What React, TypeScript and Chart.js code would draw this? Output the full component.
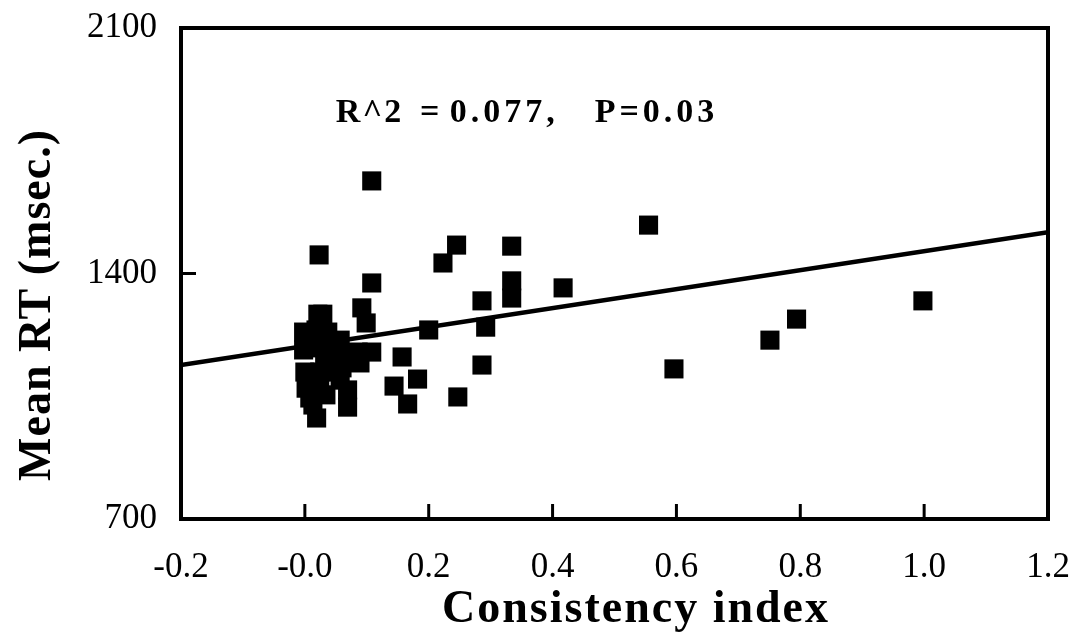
import { useEffect, useRef } from "react";
import { Chart, registerables } from "chart.js";

Chart.register(...registerables);

// Scatter data
const consistencyIndex = [
  0.108, 0.023, 0.108, 0.245, 0.223, 0.334, 0.334, 0.334, 0.417, 0.286,
  0.292, 0.2, 0.286, 0.247, 0.555, 0.596, 0.751, 0.794, 0.998, 0.166,
  0.182, 0.144, 0.157, 0.092, 0.099, 0.108, 0.089, 0.086,
  -0.002, -0.002, 0.0, 0.002, 0.008, 0.018, 0.021, 0.029, 0.021, 0.024,
  0.024, 0.019, 0.013, 0.037, 0.04, 0.032, 0.037, 0.034, 0.057, 0.057,
  0.06, 0.057, 0.069, 0.069,
];
const meanRT = [
  1664, 1453, 1373, 1481, 1430, 1478, 1379, 1330, 1359, 1322,
  1247, 1239, 1139, 1048, 1538, 1128, 1210, 1270, 1322, 1028,
  1099, 1079, 1162, 1302, 1259, 1176, 1145, 1176,
  1233, 1182, 1119, 1073, 1045, 1239, 1284, 1284, 1188, 1119,
  1073, 988, 1025, 1233, 1196, 1168, 1119, 1054, 1210, 1168,
  1131, 1096, 1068, 1019,
];

// Regression line endpoints
const fitX = [-0.2, 1.2];
const fitY = [1139, 1518];

// Axis ticks
const xTickLabels = ["-0.2", "-0.0", "0.2", "0.4", "0.6", "0.8", "1.0", "1.2"];
const yTickLabels = ["700", "1400", "2100"];

// Texts
const xTitle = "Consistency index";
const yTitle = "Mean RT (msec.)";
const statTexts = ["R^2", "=", "0.077,", "P=0.03"];
const statX = [0.05, 0.186, 0.234, 0.468];
const statSpacing = [2, 4, 4, 4];
const statY = 1832;

const SERIF = "'Liberation Serif', 'Times New Roman', serif";

const framePlugin = {
  id: "frame",
  afterDatasetsDraw(chart: any) {
    const { ctx, chartArea } = chart;
    const { left, right, top, bottom } = chartArea;
    const xs = chart.scales.x;
    const ys = chart.scales.y;
    ctx.save();
    ctx.strokeStyle = "#000";
    // inward ticks
    ctx.lineWidth = 3;
    xs.ticks.forEach((t: any, i: number) => {
      if (i === 0 || i === xs.ticks.length - 1) return;
      const px = xs.getPixelForValue(t.value);
      ctx.beginPath();
      ctx.moveTo(px, bottom);
      ctx.lineTo(px, bottom - 15);
      ctx.stroke();
    });
    ys.ticks.forEach((t: any, i: number) => {
      if (i === 0 || i === ys.ticks.length - 1) return;
      const py = ys.getPixelForValue(t.value);
      ctx.beginPath();
      ctx.moveTo(left, py);
      ctx.lineTo(left + 15, py);
      ctx.stroke();
    });
    // frame
    ctx.lineWidth = 4;
    ctx.strokeRect(left, top, right - left, bottom - top);

    // stat annotation
    ctx.fillStyle = "#000";
    ctx.font = `bold 34px ${SERIF}`;
    ctx.textAlign = "left";
    ctx.textBaseline = "alphabetic";
    statTexts.forEach((s, i) => {
      (ctx as any).letterSpacing = `${statSpacing[i]}px`;
      ctx.fillText(s, xs.getPixelForValue(statX[i]), ys.getPixelForValue(statY));
    });

    // x title
    ctx.font = `bold 46px ${SERIF}`;
    (ctx as any).letterSpacing = "2px";
    ctx.textAlign = "center";
    ctx.fillText(xTitle, 636, 622);

    // y title
    ctx.save();
    ctx.translate(50, 305);
    ctx.rotate(-Math.PI / 2);
    (ctx as any).letterSpacing = "1px";
    ctx.fillText(yTitle, 0, 0);
    ctx.restore();
    ctx.restore();
  },
};

export default function App() {
  const ref = useRef<HTMLCanvasElement | null>(null);
  useEffect(() => {
    document.body.style.margin = "0";
    const canvas = ref.current!;
    const chart = new Chart(canvas, {
      type: "scatter",
      data: {
        datasets: [
          {
            label: "RT",
            data: consistencyIndex.map((x, i) => ({ x, y: meanRT[i] })),
            pointStyle: "rect",
            pointRadius: 13.5,
            backgroundColor: "#000",
            borderWidth: 0,
          },
          {
            label: "fit",
            type: "line",
            data: fitX.map((x, i) => ({ x, y: fitY[i] })),
            showLine: true,
            pointRadius: 0,
            borderColor: "#000",
            borderWidth: 4.5,
          } as any,
        ],
      },
      options: {
        responsive: false,
        animation: false,
        events: [],
        layout: { padding: { top: 28, right: 28, left: 0, bottom: 0 } },
        plugins: { legend: { display: false }, tooltip: { enabled: false }, title: { display: false } },
        scales: {
          x: {
            type: "linear",
            min: -0.2,
            max: 1.2,
            border: { display: false },
            grid: { display: false, drawTicks: false },
            ticks: {
              stepSize: 0.2,
              padding: 28,
              color: "#000",
              font: { family: SERIF, size: 35 },
              maxRotation: 0,
              autoSkip: false,
              callback: (_v: any, i: number) => xTickLabels[i],
            },
            afterFit: (s: any) => {
              s.height = 117;
              s.paddingLeft = 0;
              s.paddingRight = 0;
              s.paddingTop = 0;
              s.paddingBottom = 0;
            },
          },
          y: {
            type: "linear",
            min: 700,
            max: 2100,
            border: { display: false },
            grid: { display: false, drawTicks: false },
            ticks: {
              stepSize: 700,
              padding: 24,
              color: "#000",
              font: { family: SERIF, size: 35 },
              callback: (_v: any, i: number) => yTickLabels[i],
            },
            afterFit: (s: any) => {
              s.width = 181;
              s.paddingLeft = 0;
              s.paddingRight = 0;
              s.paddingTop = 0;
              s.paddingBottom = 0;
            },
          },
        },
      },
      plugins: [framePlugin],
    });
    return () => chart.destroy();
  }, []);
  return (
    <div style={{ width: 1076, height: 636, background: "#fff" }}>
      <canvas ref={ref} width={1076} height={636} />
    </div>
  );
}
